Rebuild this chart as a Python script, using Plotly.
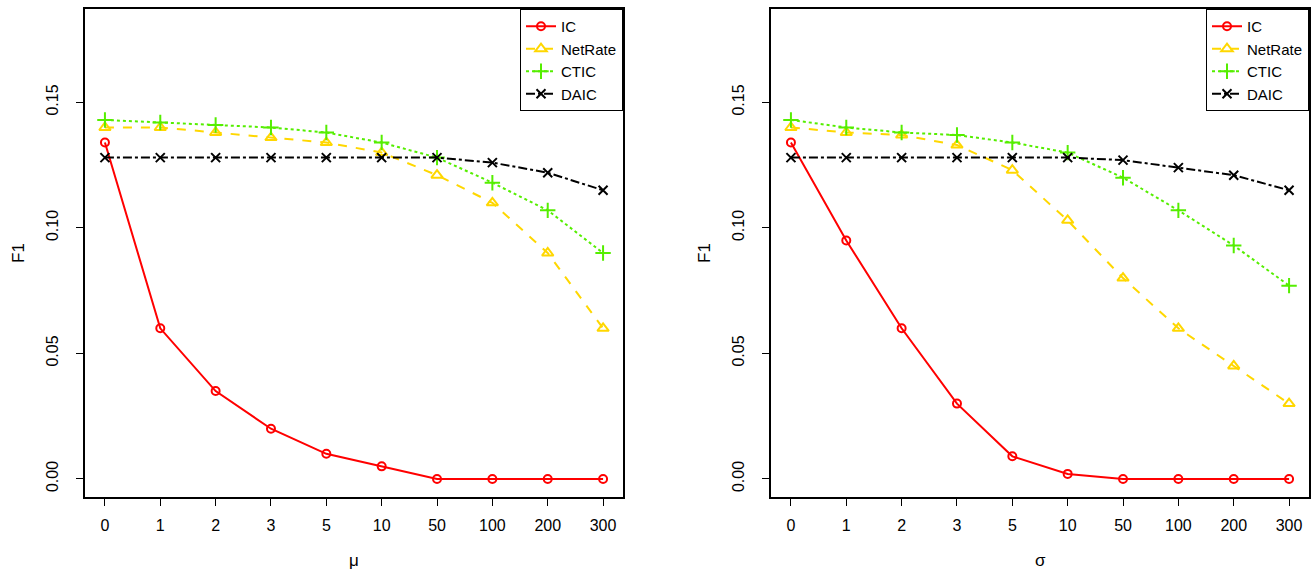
import plotly.graph_objects as go

categories = ["0", "1", "2", "3", "5", "10", "50", "100", "200", "300"]

mu_IC      = [0.134, 0.060, 0.035, 0.020, 0.010, 0.005, 0.000, 0.000, 0.000, 0.000]
mu_NetRate = [0.140, 0.140, 0.138, 0.136, 0.134, 0.130, 0.121, 0.110, 0.090, 0.060]
mu_CTIC    = [0.143, 0.142, 0.141, 0.140, 0.138, 0.134, 0.128, 0.118, 0.107, 0.090]
mu_DAIC    = [0.128, 0.128, 0.128, 0.128, 0.128, 0.128, 0.128, 0.126, 0.122, 0.115]

sigma_IC      = [0.134, 0.095, 0.060, 0.030, 0.009, 0.002, 0.000, 0.000, 0.000, 0.000]
sigma_NetRate = [0.140, 0.138, 0.137, 0.133, 0.123, 0.103, 0.080, 0.060, 0.045, 0.030]
sigma_CTIC    = [0.143, 0.140, 0.138, 0.137, 0.134, 0.130, 0.120, 0.107, 0.093, 0.077]
sigma_DAIC    = [0.128, 0.128, 0.128, 0.128, 0.128, 0.128, 0.127, 0.124, 0.121, 0.115]

series_names = ["IC", "NetRate", "CTIC", "DAIC"]
colors = ["#FF0000", "#FFD700", "#55EE00", "#000000"]
dashes = ["solid", "dash", "dot", "dashdot"]
symbols = ["circle-open", "triangle-up-open", "cross-thin-open", "x-thin-open"]
sizes = [8, 10, 11, 9]

FONT = "Liberation Sans, Arial, Helvetica, sans-serif"
W, H = 1314, 570

fig = go.Figure()

panels = [
    ("x", "y", "legend", [mu_IC, mu_NetRate, mu_CTIC, mu_DAIC]),
    ("x2", "y2", "legend2", [sigma_IC, sigma_NetRate, sigma_CTIC, sigma_DAIC]),
]
xi = list(range(len(categories)))
for xa, ya, lg, data in panels:
    for name, vals, c, d, s, sz in zip(series_names, data, colors, dashes, symbols, sizes):
        fig.add_trace(go.Scatter(
            x=xi, y=vals, name=name, xaxis=xa, yaxis=ya, legend=lg,
            mode="lines+markers",
            line=dict(color=c, width=2, dash=d),
            marker=dict(symbol=s, size=sz, color=c, line=dict(color=c, width=2)),
        ))

left_dom = [85 / W, 623 / W]
right_dom = [771 / W, 1309 / W]
y_dom = [1 - 497 / H, 1 - 9 / H]

xaxis_common = dict(
    range=[-0.36, 9.36], tickmode="array", tickvals=xi, ticktext=categories,
    showline=True, mirror=True, linecolor="black", linewidth=1.5,
    ticks="outside", ticklen=7, tickwidth=1, tickcolor="black",
    showgrid=False, zeroline=False, ticklabelstandoff=6,
    tickfont=dict(family=FONT, size=16, color="black"),
)
yaxis_common = dict(
    range=[-0.0072, 0.1872], tickvals=[0, 0.05, 0.10, 0.15], tickformat=".2f",
    tickangle=-90,
    showline=True, mirror=True, linecolor="black", linewidth=1.5,
    ticks="outside", ticklen=7, tickwidth=1, tickcolor="black",
    showgrid=False, zeroline=False, ticklabelstandoff=12,
    tickfont=dict(family=FONT, size=16, color="black"),
)

legend_common = dict(
    bgcolor="white", bordercolor="black", borderwidth=1,
    font=dict(family=FONT, size=15, color="black"),
    yanchor="top", xanchor="right", itemwidth=30,
    tracegroupgap=0,
)

fig.update_layout(
    width=W, height=H,
    margin=dict(l=0, r=0, t=0, b=0),
    paper_bgcolor="white", plot_bgcolor="white",
    showlegend=True,
    xaxis=dict(domain=left_dom, anchor="y", **xaxis_common),
    yaxis=dict(domain=y_dom, anchor="x", **yaxis_common),
    xaxis2=dict(domain=right_dom, anchor="y2", **xaxis_common),
    yaxis2=dict(domain=y_dom, anchor="x2", **yaxis_common),
    legend=dict(x=left_dom[1], y=y_dom[1], **legend_common),
    legend2=dict(x=right_dom[1], y=y_dom[1], **legend_common),
    annotations=[
        dict(text="F1", x=18 / W, y=1 - 253 / H, xref="paper", yref="paper",
             xanchor="center", yanchor="middle",
             showarrow=False, textangle=-90, font=dict(family=FONT, size=17, color="black")),
        dict(text="F1", x=704 / W, y=1 - 253 / H, xref="paper", yref="paper",
             xanchor="center", yanchor="middle",
             showarrow=False, textangle=-90, font=dict(family=FONT, size=17, color="black")),
        dict(text="μ", x=(left_dom[0] + left_dom[1]) / 2, y=1 - 560 / H, xref="paper", yref="paper",
             xanchor="center", yanchor="middle",
             showarrow=False, font=dict(family=FONT, size=17, color="black")),
        dict(text="σ", x=(right_dom[0] + right_dom[1]) / 2, y=1 - 560 / H, xref="paper", yref="paper",
             xanchor="center", yanchor="middle",
             showarrow=False, font=dict(family=FONT, size=17, color="black")),
    ],
)

fig.write_html(
    "out.html",
    config={"displayModeBar": False},
    post_script="document.body.style.margin='0px';document.body.style.overflow='hidden';",
)
